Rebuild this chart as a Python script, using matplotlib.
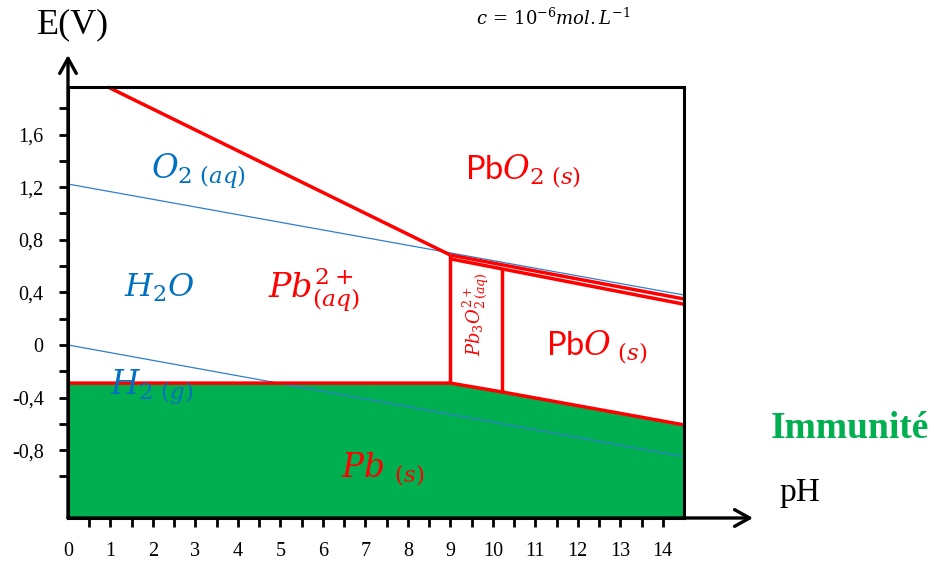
import matplotlib
matplotlib.use("Agg")
import matplotlib.pyplot as plt
from matplotlib.ticker import FixedLocator, FixedFormatter

plt.rcParams['mathtext.fontset'] = 'custom'
plt.rcParams['mathtext.it'] = 'DejaVu Serif:italic'
plt.rcParams['mathtext.rm'] = 'DejaVu Serif'
plt.rcParams['mathtext.sf'] = 'Lato'
plt.rcParams['font.family'] = ['Liberation Serif', 'DejaVu Serif']

# ---------------- data ----------------
ph_ticks = list(range(0, 15))
ph_minor = [x + 0.5 for x in range(0, 14)]
e_ticks = [-0.8, -0.4, 0.0, 0.4, 0.8, 1.2, 1.6]
e_tick_labels = ['-0,8', '-0,4', '0', '0,4', '0,8', '1,2', '1,6']
e_minor = [-1.0, -0.6, -0.2, 0.2, 0.6, 1.0, 1.4, 1.8]

ph_min, ph_max = 0.0, 14.5
e_min, e_max = -1.316, 1.962

# water stability lines
o2_ph = [0.0, 14.5]
o2_E = [1.224, 0.38]
h2_ph = [0.0, 14.5]
h2_E = [0.0, -0.85]

# lead boundaries
pbo2_pb2_ph = [0.94, 9.0]
pbo2_pb2_E = [1.962, 0.684]
pbo2_upper_ph = [9.0, 14.5]
pbo2_upper_E = [0.684, 0.35]
pbo2_lower_ph = [9.0, 14.5]
pbo2_lower_E = [0.655, 0.31]
pb_ph = [0.0, 9.0, 10.21, 14.5]
pb_E = [-0.29, -0.29, -0.357, -0.608]
vert1_ph = [9.0, 9.0]
vert1_E = [-0.29, 0.684]
vert2_ph = [10.21, 10.21]
vert2_E = [-0.357, 0.58]

RED = '#FF0000'
BLUE_TXT = '#0070C0'
BLUE_LINE = '#2F7FD0'
GREEN = '#00B050'

W, H = 934, 561
fig = plt.figure(figsize=(W / 100, H / 100), dpi=100)
ax = fig.add_axes([68 / W, (H - 518) / H, (684 - 68) / W, (518 - 87) / H])
ax.set_xlim(ph_min, ph_max)
ax.set_ylim(e_min, e_max)

# immunity region
ax.fill_between(pb_ph, pb_E, [e_min] * len(pb_ph), color=GREEN, lw=0, zorder=1)

# water lines
ax.plot(o2_ph, o2_E, color=BLUE_LINE, lw=0.9, zorder=2)
ax.plot(h2_ph, h2_E, color=BLUE_LINE, lw=0.9, zorder=2)

# red boundaries
rkw = dict(color=RED, lw=2.5, zorder=3, solid_capstyle='butt', solid_joinstyle='miter', clip_on=False)
ax.plot(pbo2_pb2_ph, pbo2_pb2_E, **rkw)
ax.plot(pbo2_upper_ph, pbo2_upper_E, **rkw)
ax.plot(pbo2_lower_ph, pbo2_lower_E, **rkw)
ax.plot(pb_ph, pb_E, **rkw)
ax.plot(vert1_ph, vert1_E, **rkw)
ax.plot(vert2_ph, vert2_E, **rkw)

# spines
for s in ax.spines.values():
    s.set_linewidth(2.2)
    s.set_color('black')
    s.set_zorder(5)

# ticks
ax.xaxis.set_major_locator(FixedLocator(ph_ticks))
ax.xaxis.set_major_formatter(FixedFormatter([str(v) for v in ph_ticks]))
ax.xaxis.set_minor_locator(FixedLocator(ph_minor))
ax.yaxis.set_major_locator(FixedLocator(e_ticks))
ax.yaxis.set_major_formatter(FixedFormatter(e_tick_labels))
ax.yaxis.set_minor_locator(FixedLocator(e_minor))
ax.tick_params(axis='both', which='both', direction='out', length=6.5, width=2, color='black')
ax.tick_params(axis='x', which='major', pad=11, labelsize=14.5)
ax.tick_params(axis='y', which='major', pad=11, labelsize=14.5)
ax.xaxis.get_major_ticks()[0].tick1line.set_visible(False)

# axis arrows
akw = dict(arrowstyle='->,head_length=0.9,head_width=0.5', lw=2.4, color='black',
           mutation_scale=12, shrinkA=0, shrinkB=0)
ax.annotate('', xy=(68, H - 55), xytext=(68, H - 518), xycoords='figure pixels',
            textcoords='figure pixels', arrowprops=akw, annotation_clip=False)
ax.annotate('', xy=(753, H - 518), xytext=(68, H - 518), xycoords='figure pixels',
            textcoords='figure pixels', arrowprops=akw, annotation_clip=False)

# labels outside
fig.text(73 / W, 1 - 25 / H, 'E(V)', fontsize=26, ha='center', va='center')
fig.text(800 / W, 1 - 493 / H, 'pH', fontsize=24, ha='center', va='center')
fig.text(850 / W, 1 - 429 / H, 'Immunité', fontsize=27, fontweight='bold',
         color=GREEN, ha='center', va='center')
fig.text(553 / W, 1 - 18 / H, r'$c\,=\,10^{-6}mol.L^{-1}$', fontsize=13,
         ha='center', va='center')

# region labels
tk = dict(ha='center', va='center', zorder=6)
ax.text(3.07, 1.32, r'$O_{2\ (aq)}$', fontsize=23.5, color=BLUE_TXT, **tk)
ax.text(2.15, 0.43, r'$H_2O$', fontsize=23, color=BLUE_TXT, **tk)
ax.text(1.97, -0.32, r'$H_{2\ (g)}$', fontsize=23.5, color=BLUE_TXT, **tk)
ax.text(5.78, 0.42, r'$Pb^{2+}_{(aq)}$', fontsize=24, color=RED, **tk)
ax.text(10.7, 1.32, r'$\mathsf{Pb}O_{2\ (s)}$', fontsize=23.5, color=RED, **tk)
ax.text(12.45, -0.02, r'$\mathsf{Pb}O_{\ (s)}$', fontsize=23.5, color=RED, **tk)
ax.text(7.4, -0.95, r'$Pb\ _{(s)}$', fontsize=23.5, color=RED, **tk)
ax.text(9.62, 0.235, r'$Pb_3O^{2+}_{2\,(aq)}$', fontsize=13, color=RED, rotation=90, **tk)

fig.savefig('out.png', dpi=100)
